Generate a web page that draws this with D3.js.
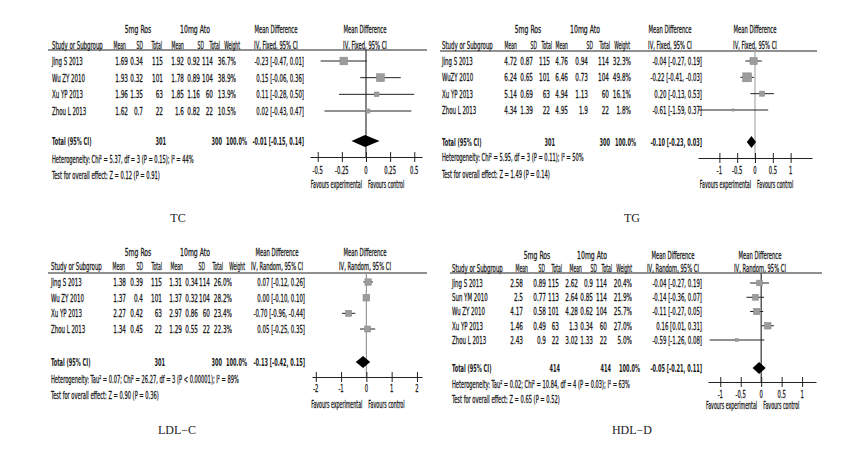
<!DOCTYPE html>
<html><head><meta charset="utf-8">
<script src="https://cdn.jsdelivr.net/npm/d3@7"></script>
<style>
body{margin:0;background:#fff}
svg text{font-family:"DejaVu Sans Condensed","DejaVu Sans",sans-serif;fill:#1a1a1a}
svg text.t{stroke:#1a1a1a;stroke-width:0.3px}
</style>
</head><body>
<script>
// ---------------- DATA ----------------
const tcStudies = ["Jing S 2013","Wu ZY 2010","Xu YP 2013","Zhou L 2013"];
const tcRosMean = [1.69,1.93,1.96,1.62];
const tcRosSD   = [0.34,0.32,1.35,0.7];
const tcRosN    = [115,101,63,22];
const tcAtoMean = [1.92,1.78,1.85,1.6];
const tcAtoSD   = [0.92,0.89,1.16,0.82];
const tcAtoN    = [114,104,60,22];
const tcWeight  = [36.7,38.9,13.9,10.5];
const tcMD      = [-0.23,0.15,0.11,0.02];
const tcLo      = [-0.47,-0.06,-0.28,-0.43];
const tcHi      = [0.01,0.36,0.50,0.47];
const tcTotal   = {n1:301,n2:300,md:-0.01,lo:-0.15,hi:0.14};
const tcHet     = "Heterogeneity: Chi² = 5.37, df = 3 (P = 0.15); I² = 44%";
const tcTest    = "Test for overall effect: Z = 0.12 (P = 0.91)";
const tcTicks   = [-0.5,-0.25,0,0.25,0.5];
const tcTickLabels = ["-0.5","-0.25","0","0.25","0.5"];

const tgStudies = ["Jing S 2013","WuZY 2010","Xu YP 2013","Zhou L 2013"];
const tgRosMean = [4.72,6.24,5.14,4.34];
const tgRosSD   = [0.87,0.65,0.69,1.39];
const tgRosN    = [115,101,63,22];
const tgAtoMean = [4.76,6.46,4.94,4.95];
const tgAtoSD   = [0.94,0.73,1.13,1.9];
const tgAtoN    = [114,104,60,22];
const tgWeight  = [32.3,49.8,16.1,1.8];
const tgMD      = [-0.04,-0.22,0.20,-0.61];
const tgLo      = [-0.27,-0.41,-0.13,-1.59];
const tgHi      = [0.19,-0.03,0.53,0.37];
const tgTotal   = {n1:301,n2:300,md:-0.10,lo:-0.23,hi:0.03};
const tgHet     = "Heterogeneity: Chi² = 5.95, df = 3 (P = 0.11); I² = 50%";
const tgTest    = "Test for overall effect: Z = 1.49 (P = 0.14)";
const tgTicks   = [-1,-0.5,0,0.5,1];
const tgTickLabels = ["-1","-0.5","0","0.5","1"];

const ldlStudies = ["Jing S 2013","Wu ZY 2010","Xu YP 2013","Zhou L 2013"];
const ldlRosMean = [1.38,1.37,2.27,1.34];
const ldlRosSD   = [0.39,0.4,0.42,0.45];
const ldlRosN    = [115,101,63,22];
const ldlAtoMean = [1.31,1.37,2.97,1.29];
const ldlAtoSD   = [0.34,0.32,0.86,0.55];
const ldlAtoN    = [114,104,60,22];
const ldlWeight  = [26.0,28.2,23.4,22.3];
const ldlMD      = [0.07,0.00,-0.70,0.05];
const ldlLo      = [-0.12,-0.10,-0.96,-0.25];
const ldlHi      = [0.26,0.10,-0.44,0.35];
const ldlTotal   = {n1:301,n2:300,md:-0.13,lo:-0.42,hi:0.15};
const ldlHet     = "Heterogeneity: Tau² = 0.07; Chi² = 26.27, df = 3 (P < 0.00001); I² = 89%";
const ldlTest    = "Test for overall effect: Z = 0.90 (P = 0.36)";
const ldlTicks   = [-2,-1,0,1,2];
const ldlTickLabels = ["-2","-1","0","1","2"];

const hdlStudies = ["Jing S 2013","Sun YM 2010","Wu ZY 2010","Xu YP 2013","Zhou L 2013"];
const hdlRosMean = [2.58,2.5,4.17,1.46,2.43];
const hdlRosSD   = [0.89,0.77,0.58,0.49,0.9];
const hdlRosN    = [115,113,101,63,22];
const hdlAtoMean = [2.62,2.64,4.28,1.3,3.02];
const hdlAtoSD   = [0.9,0.85,0.62,0.34,1.33];
const hdlAtoN    = [114,114,104,60,22];
const hdlWeight  = [20.4,21.9,25.7,27.0,5.0];
const hdlMD      = [-0.04,-0.14,-0.11,0.16,-0.59];
const hdlLo      = [-0.27,-0.36,-0.27,0.01,-1.26];
const hdlHi      = [0.19,0.07,0.05,0.31,0.08];
const hdlTotal   = {n1:414,n2:414,md:-0.05,lo:-0.21,hi:0.11};
const hdlHet     = "Heterogeneity: Tau² = 0.02; Chi² = 10.84, df = 4 (P = 0.03); I² = 63%";
const hdlTest    = "Test for overall effect: Z = 0.65 (P = 0.52)";
const hdlTicks   = [-1,-0.5,0,0.5,1];
const hdlTickLabels = ["-1","-0.5","0","0.5","1"];

const groupLabels = ["5mg Ros","10mg Ato"];
const colLabels = ["Mean","SD","Total","Mean","SD","Total","Weight"];

// ---------------- PANELS (layout options) ----------------
const panels = [
 {title:"TC", method:"IV, Fixed, 95% CI", studies:tcStudies,
  cols:[tcRosMean,tcRosSD,tcRosN,tcAtoMean,tcAtoSD,tcAtoN], weight:tcWeight, md:tcMD, lo:tcLo, hi:tcHi,
  total:tcTotal, het:tcHet, test:tcTest, ticks:tcTicks, tickLabels:tcTickLabels, domain:[-0.58,0.58], zero:"#333",
  L:{studyX:52, grp:[138,195], mdC:276, plotC:365, yGroup:29, yHead:45, yLine:50, lx0:48, lx1:427,
     head:[126,143,162,184,204,220,240], data:[128,143,163,184,200,213,236], tot:[166,222,247], mdR:304,
     row0:61, rowN:111, yTot:141, yHet:159, yTest:175, ax0:310, ax1:422, yAxis:157, yTick:170, yFav:184, tx:178, ty:218}},
 {title:"TG", method:"IV, Fixed, 95% CI", studies:tgStudies,
  cols:[tgRosMean,tgRosSD,tgRosN,tgAtoMean,tgAtoSD,tgAtoN], weight:tgWeight, md:tgMD, lo:tgLo, hi:tgHi,
  total:tgTotal, het:tgHet, test:tgTest, ticks:tgTicks, tickLabels:tgTickLabels, domain:[-1.6,1.6], zero:"#aaa",
  L:{studyX:442, grp:[528,585], mdC:670, plotC:755, yGroup:29, yHead:45, yLine:51, lx0:440, lx1:817,
     head:[517,537,552,568,593,610,630], data:[517,533,550,568,588,609,631], tot:[555,610,636], mdR:702,
     row0:61, rowN:110, yTot:142, yHet:157, yTest:174, ax0:698, ax1:812, yAxis:158, yTick:170, yFav:184, tx:632, ty:218}},
 {title:"LDL−C", method:"IV, Random, 95% CI", studies:ldlStudies,
  cols:[ldlRosMean,ldlRosSD,ldlRosN,ldlAtoMean,ldlAtoSD,ldlAtoN], weight:ldlWeight, md:ldlMD, lo:ldlLo, hi:ldlHi,
  total:ldlTotal, het:ldlHet, test:ldlTest, ticks:ldlTicks, tickLabels:ldlTickLabels, domain:[-2.15,2.2], zero:"#999",
  L:{studyX:51, grp:[138,195], mdC:277, plotC:365, yGroup:252, yHead:266, yLine:273, lx0:48, lx1:427,
     head:[125,143,162,183,205,223,245], data:[126,143,162,182,198,210,232], tot:[165,222,247], mdR:305,
     row0:282, rowN:329, yTot:362, yHet:379, yTest:395, ax0:312, ax1:422, yAxis:377, yTick:388, yFav:404, tx:177, ty:430}},
 {title:"HDL−D", method:"IV, Random, 95% CI", studies:hdlStudies,
  cols:[hdlRosMean,hdlRosSD,hdlRosN,hdlAtoMean,hdlAtoSD,hdlAtoN], weight:hdlWeight, md:hdlMD, lo:hdlLo, hi:hdlHi,
  total:hdlTotal, het:hdlHet, test:hdlTest, ticks:hdlTicks, tickLabels:hdlTickLabels, domain:[-1.3,1.34], zero:"#333",
  L:{studyX:452, grp:[537,592], mdC:673, plotC:760, yGroup:255, yHead:268, yLine:273, lx0:450, lx1:822,
     head:[528,545,562,582,597,612,632], data:[523,546,559,578,593,607,632], tot:[560,611,640], mdR:702,
     row0:283, rowN:340, yTot:368, yHet:384, yTest:399, ax0:708, ax1:816, yAxis:382, yTick:394, yFav:405, tx:632, ty:430}}
];

// ---------------- DRAW ----------------
const W = 867, H = 462;
const ST = {            // text styles: [font-size, horizontal squeeze, bold]
  word:[11,0.55,false], num:[11,0.58,false], head:[11,0.46,false], mdh:[11,0.53,false], group:[11,0.62,false],
  tot:[11,0.51,true], note:[11,0.52,false], tick:[11,0.53,false], fav:[11,0.48,false], md:[11,0.55,false]
};
const svg = d3.select("body").append("svg").attr("width",W).attr("height",H);
svg.append("rect").attr("width",W).attr("height",H).attr("fill","#fff");

function txt(g, x, y, s, anchor, style) {
  const [size,sx,bold] = ST[style];
  return g.append("text")
    .attr("class", bold ? null : "t")
    .attr("transform",`translate(${x},${y}) scale(${sx},1)`)
    .attr("dy","0.36em")
    .attr("text-anchor",anchor||"start")
    .attr("font-size",size)
    .attr("font-weight",bold?"bold":null)
    .text(s);
}
const f2 = v => v.toFixed(2);
const mdStr = (m,l,h) => `${f2(m)} [${f2(l)}, ${f2(h)}]`;

panels.forEach(P => {
  const L = P.L, g = svg.append("g");
  const n = P.studies.length;
  const yRow = d3.scaleLinear().domain([0,n-1]).range([L.row0,L.rowN]);
  const x = d3.scaleLinear().domain(P.domain).range([L.ax0,L.ax1]);
  const sz = d3.scaleSqrt().domain([0,50]).range([0,9]);

  // headers
  groupLabels.forEach((s,i)=>txt(g,L.grp[i],L.yGroup,s,"middle","group"));
  txt(g,L.mdC,L.yGroup,"Mean Difference","middle","mdh");
  txt(g,L.plotC,L.yGroup,"Mean Difference","middle","mdh");
  txt(g,L.studyX,L.yHead,"Study or Subgroup","start","word");
  colLabels.forEach((s,i)=>txt(g,L.head[i],L.yHead,s,"end","head"));
  txt(g,L.mdC,L.yHead,P.method,"middle","mdh");
  txt(g,L.plotC,L.yHead,P.method,"middle","mdh");
  g.append("line").attr("x1",L.lx0).attr("x2",L.lx1).attr("y1",L.yLine).attr("y2",L.yLine)
    .attr("stroke","#222").attr("stroke-width",1.2);

  // study rows
  P.studies.forEach((s,i)=>{
    const y = yRow(i);
    txt(g,L.studyX,y,s,"start","word");
    P.cols.forEach((arr,j)=>txt(g,L.data[j],y,String(arr[i]),"end","num"));
    txt(g,L.data[6],y,P.weight[i].toFixed(1)+"%","end","num");
    txt(g,L.mdR,y,mdStr(P.md[i],P.lo[i],P.hi[i]),"end","md");
  });
  // total row
  const T = P.total;
  txt(g,L.studyX,L.yTot,"Total (95% CI)","start","tot");
  txt(g,L.tot[0],L.yTot,String(T.n1),"end","tot");
  txt(g,L.tot[1],L.yTot,String(T.n2),"end","tot");
  txt(g,L.tot[2],L.yTot,"100.0%","end","tot");
  txt(g,L.mdR,L.yTot,mdStr(T.md,T.lo,T.hi),"end","tot");
  txt(g,L.studyX,L.yHet,P.het,"start","note");
  txt(g,L.studyX,L.yTest,P.test,"start","note");

  // plot: zero line
  g.append("line").attr("x1",x(0)).attr("x2",x(0)).attr("y1",L.yLine).attr("y2",L.yAxis)
    .attr("stroke",P.zero).attr("stroke-width",1.2);
  // CIs + squares
  P.studies.forEach((s,i)=>{
    const y = yRow(i);
    g.append("line").attr("x1",x(Math.max(P.lo[i],P.domain[0]))).attr("x2",x(Math.min(P.hi[i],P.domain[1])))
      .attr("y1",y).attr("y2",y).attr("stroke","#222").attr("stroke-width",1);
    const s2 = Math.max(sz(P.weight[i]),2.2);
    g.append("rect").attr("x",x(P.md[i])-s2/2).attr("y",y-s2/2).attr("width",s2).attr("height",s2)
      .attr("fill","#9c9c9c").attr("stroke","#888").attr("stroke-width",0.5);
  });
  // diamond
  const yT = L.yTot;
  g.append("path")
    .attr("d",`M${x(T.lo)},${yT}L${x(T.md)},${yT-6}L${x(T.hi)},${yT}L${x(T.md)},${yT+6}Z`)
    .attr("fill","#000");
  // axis
  const ax = g.append("g").attr("transform",`translate(0,${L.yAxis})`)
    .call(d3.axisBottom(x).tickValues(P.ticks).tickFormat((d,i)=>P.tickLabels[i]).tickSize(5).tickSizeOuter(0));
  ax.select(".domain").attr("stroke","#222").attr("stroke-width",1.2);
  ax.selectAll(".tick line").attr("y1",-5).attr("y2",5).attr("stroke","#222");
  ax.selectAll(".tick text").remove();
  P.ticks.forEach((t,i)=>txt(g,x(t),L.yTick,P.tickLabels[i],"middle","tick"));
  txt(g,x(0)-4,L.yFav,"Favours experimental","end","fav");
  txt(g,x(0)+2,L.yFav,"Favours control","start","fav");

  // title
  g.append("text").attr("x",L.tx).attr("y",L.ty).attr("dy","0.35em").attr("text-anchor","middle")
    .attr("font-size",12).style("font-family","'Liberation Serif','DejaVu Serif',serif").text(P.title);
});
</script>
</body></html>
